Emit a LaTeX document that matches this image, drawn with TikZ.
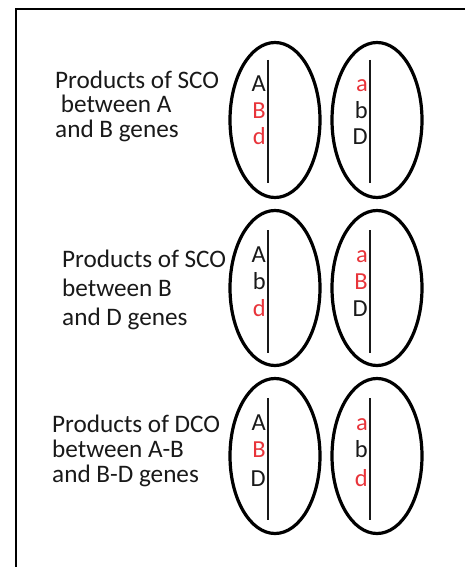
\documentclass[tikz,border=0pt]{standalone}
\usepackage{fontspec}
\setmainfont{Carlito}
\usetikzlibrary{shapes.geometric}
\definecolor{ink}{RGB}{25,25,25}
\definecolor{allele}{RGB}{232,52,58}
\begin{document}
\begin{tikzpicture}[x=1pt,y=-1pt,
  caption/.style={anchor=base west,inner sep=0pt,font=\fontsize{25.2}{28}\selectfont,text=ink},
  gene/.style={anchor=base east,inner sep=0pt,font=\fontsize{24.5}{28}\selectfont,text=ink},
  mutant/.style={gene,text=allele},
  chrom/.style={ellipse,draw=black,line width=3.2pt,inner sep=0pt,minimum width=90pt,minimum height=155pt},
  axis/.style={draw=ink,line width=2.2pt}]
\useasboundingbox (0,0) rectangle (465,567);
\clip (0,0) rectangle (465,567);
% frame
\draw[line width=2pt] (16,567) -- (16,9) -- (465,9);

% ---- row 1: SCO between A and B
\node[caption] (t1a) at (55,89) {Products of SCO};
\node[caption] (t1b) at (55,113) {\ between A};
\node[caption] (t1c) at (55,137) {and B genes};
\node[chrom] (c1l) at (275,120) {};
\node[chrom] (c1r) at (377,120) {};
\draw[axis] (268,60) -- (268,183);
\draw[axis] (370,60) -- (370,183);
\node[gene]   (g1la) at (266,92)  {A};
\node[mutant] (g1lb) at (266,118) {B};
\node[mutant] (g1lc) at (266,144) {d};
\node[mutant] (g1ra) at (368,92)  {a};
\node[gene]   (g1rb) at (368,118) {b};
\node[gene]   (g1rc) at (368,144) {D};

% ---- row 2: SCO between B and D
\node[caption] (t2a) at (62,267) {Products of SCO};
\node[caption] (t2b) at (62,296) {between B};
\node[caption] (t2c) at (62,325) {and D genes};
\node[chrom] (c2l) at (275,288) {};
\node[chrom] (c2r) at (377,288) {};
\draw[axis] (268,230) -- (268,353);
\draw[axis] (370,230) -- (370,353);
\node[gene]   (g2la) at (266,262) {A};
\node[gene]   (g2lb) at (266,289) {b};
\node[mutant] (g2lc) at (266,316) {d};
\node[mutant] (g2ra) at (368,262) {a};
\node[mutant] (g2rb) at (368,289) {B};
\node[gene]   (g2rc) at (368,316) {D};

% ---- row 3: DCO between A-B and B-D
\node[caption] (t3a) at (52,432) {Products of DCO};
\node[caption] (t3b) at (52,457) {between A-B};
\node[caption] (t3c) at (52,482) {and B-D genes};
\node[chrom] (c3l) at (275,456) {};
\node[chrom] (c3r) at (377,456) {};
\draw[axis] (268,398) -- (268,520);
\draw[axis] (370,398) -- (370,520);
\node[gene]   (g3la) at (266,430) {A};
\node[mutant] (g3lb) at (266,457) {B};
\node[gene]   (g3lc) at (266,486) {D};
\node[mutant] (g3ra) at (368,430) {a};
\node[gene]   (g3rb) at (368,457) {b};
\node[mutant] (g3rc) at (368,486) {d};
\end{tikzpicture}
\end{document}
